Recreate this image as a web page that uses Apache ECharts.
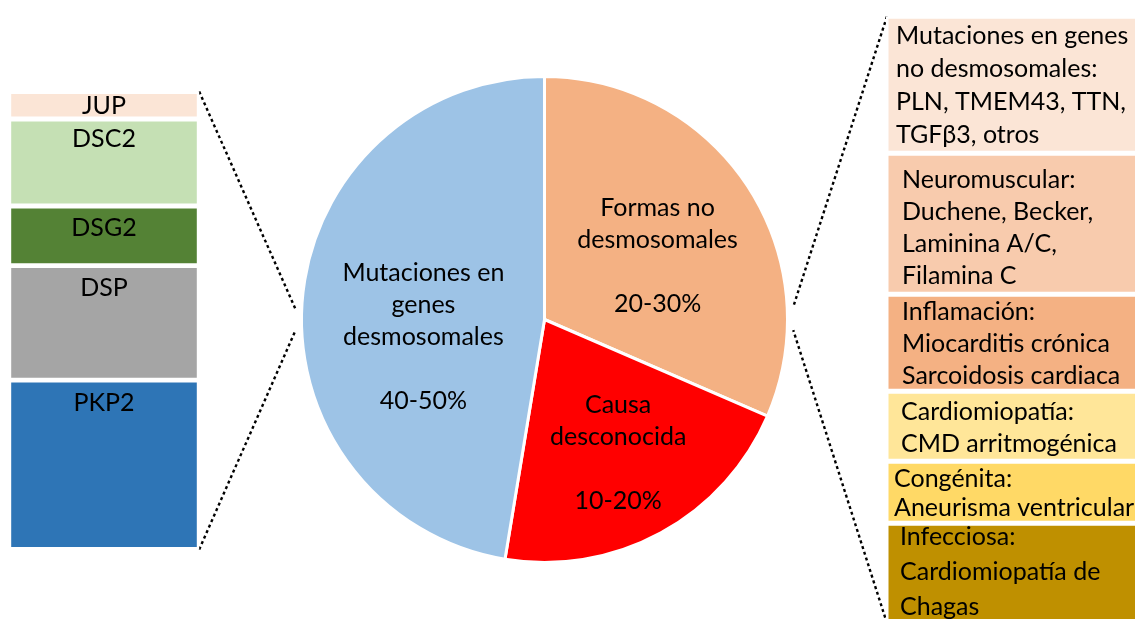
<!DOCTYPE html>
<html>
<head>
<meta charset="utf-8">
<script src="https://cdn.jsdelivr.net/npm/echarts@6/dist/echarts.min.js"></script>
<style>
html, body { margin: 0; padding: 0; background: #ffffff; }
#chart { width: 1135px; height: 619px; }
</style>
</head>
<body>
<div id="chart"></div>
<script>
// ---------------- DATA ----------------
const pieCategories = ['Formas no\ndesmosomales', 'Causa\ndesconocida', 'Mutaciones en\ngenes\ndesmosomales'];
const pieRanges = ['20-30%', '10-20%', '40-50%'];
const pieValues = [31.5, 21.1, 47.4];

const geneCategories = ['JUP', 'DSC2', 'DSG2', 'DSP', 'PKP2'];
const geneValues = [6, 19, 13, 25, 37];

const otherCategories = [
  'Mutaciones en genes\nno desmosomales:\nPLN, TMEM43, TTN,\nTGFβ3, otros',
  'Neuromuscular:\nDuchene, Becker,\nLaminina A/C,\nFilamina C',
  'Inflamación:\nMiocarditis crónica\nSarcoidosis cardiaca',
  'Cardiomiopatía:\nCMD arritmogénica',
  'Congénita:\nAneurisma ventricular',
  'Infecciosa:\nCardiomiopatía de\nChagas'
];
const otherValues = [137, 141, 97, 70, 62, 100];

// ---------------- STYLE ----------------
const pieColors = ['#F4B183', '#FF0000', '#9DC3E6'];
const geneColors = ['#FBE5D6', '#C5E0B4', '#548235', '#A5A5A5', '#2E75B6'];
const otherColors = ['#FBE5D6', '#F8CBAD', '#F4B183', '#FFE699', '#FFD966', '#BF9000'];
const geneLabelDist = [2, 7, 9, 10, 10];
const otherLabelPos = [[10, 3], [16, 11], [16, 1.5], [15, 5], [8, 3], [14, -4]];
const otherLineHeight = [33, 32, 32, 32, 29, 35];
const pieLabelShift = [[4.5, 2.5], [7, 12], [1.5, 14]];

const FONT = 'Lato';
function fitSize(text, targetWidth) {
  const ctx = document.createElement('canvas').getContext('2d');
  ctx.font = '100px ' + FONT;
  return targetWidth / ctx.measureText(text).width * 100;
}
const fs = Math.min(fitSize('Mutaciones en', 162), 27);

const pieCenter = [544.5, 319.5];
const pieRadius = 243;
const leftGrid = { left: 8.8, top: 91.5, width: 190.4, height: 458 };
const rightGrid = { left: 886, top: 16.3, width: 270, height: 607 };

const sum = a => a.reduce((s, v) => s + v, 0);

const series = [];
geneCategories.forEach((name, i) => {
  series.push({
    type: 'bar', name: name, xAxisIndex: 0, yAxisIndex: 0, stack: 'genes',
    barWidth: '100%', data: [geneValues[i]],
    itemStyle: { color: geneColors[i], borderColor: '#ffffff', borderWidth: 2.4 },
    label: {
      show: true, position: 'insideTop', distance: geneLabelDist[i],
      formatter: name, fontFamily: FONT, fontSize: fs, color: '#000000'
    },
    emphasis: { disabled: true }, silent: true
  });
});
otherCategories.forEach((name, i) => {
  series.push({
    type: 'bar', name: 'o' + i, xAxisIndex: 1, yAxisIndex: 1, stack: 'other',
    barWidth: '100%', data: [otherValues[i]],
    itemStyle: { color: otherColors[i], borderColor: '#ffffff', borderWidth: 2.5 },
    label: {
      show: true, position: otherLabelPos[i], align: 'left', verticalAlign: 'top',
      formatter: name, fontFamily: FONT, fontSize: fs, lineHeight: otherLineHeight[i], color: '#000000'
    },
    emphasis: { disabled: true }, silent: true
  });
});
series.push({
  type: 'pie', center: pieCenter, radius: pieRadius, startAngle: 90, clockwise: true,
  data: pieCategories.map((n, i) => ({ name: n, value: pieValues[i], itemStyle: { color: pieColors[i] } })),
  itemStyle: { borderColor: '#ffffff', borderWidth: 3 },
  label: {
    show: true, position: 'inside', fontFamily: FONT, fontSize: fs, lineHeight: 32, color: '#000000',
    formatter: p => pieCategories[p.dataIndex] + '\n\n' + pieRanges[p.dataIndex]
  },
  labelLayout: p => ({ dx: pieLabelShift[p.dataIndex][0], dy: pieLabelShift[p.dataIndex][1] }),
  labelLine: { show: false },
  emphasis: { disabled: true }, silent: true
});

const option = {
  animation: false,
  backgroundColor: '#ffffff',
  grid: [
    Object.assign({ containLabel: false, outerBoundsMode: 'none' }, leftGrid),
    Object.assign({ containLabel: false, outerBoundsMode: 'none' }, rightGrid)
  ],
  xAxis: [
    { type: 'category', gridIndex: 0, data: ['g'], show: false },
    { type: 'category', gridIndex: 1, data: ['o'], show: false }
  ],
  yAxis: [
    { type: 'value', gridIndex: 0, min: 0, max: sum(geneValues), inverse: true, show: false },
    { type: 'value', gridIndex: 1, min: 0, max: sum(otherValues), inverse: true, show: false }
  ],
  series: series
};

const chart = echarts.init(document.getElementById('chart'), null, { renderer: 'canvas' });
chart.setOption(option);

// connector dotted lines, anchored on the axes and the pie geometry
const yTopL = chart.convertToPixel({ yAxisIndex: 0 }, 0);
const yBotL = chart.convertToPixel({ yAxisIndex: 0 }, sum(geneValues));
const yTopR = chart.convertToPixel({ yAxisIndex: 1 }, 0);
const yBotR = chart.convertToPixel({ yAxisIndex: 1 }, sum(otherValues));
const xL = leftGrid.left + leftGrid.width;
const xR = rightGrid.left + 1;
const rr = pieRadius + 6;
const pt = a => [pieCenter[0] + rr * Math.cos(a), pieCenter[1] + rr * Math.sin(a)];
const pLU = pt(Math.PI + 0.04), pLD = pt(Math.PI - 0.042);
const pRU = pt(-0.05), pRD = pt(0.043);
const dash = { stroke: '#000000', lineWidth: 2.4, lineDash: [3, 3] };
chart.setOption({
  graphic: [
    { type: 'line', shape: { x1: xL, y1: yTopL, x2: pLU[0], y2: pLU[1] }, style: dash, silent: true },
    { type: 'line', shape: { x1: xL, y1: yBotL, x2: pLD[0], y2: pLD[1] }, style: dash, silent: true },
    { type: 'line', shape: { x1: xR, y1: yTopR, x2: pRU[0], y2: pRU[1] }, style: dash, silent: true },
    { type: 'line', shape: { x1: xR, y1: yBotR, x2: pRD[0], y2: pRD[1] }, style: dash, silent: true }
  ]
});
</script>
</body>
</html>
